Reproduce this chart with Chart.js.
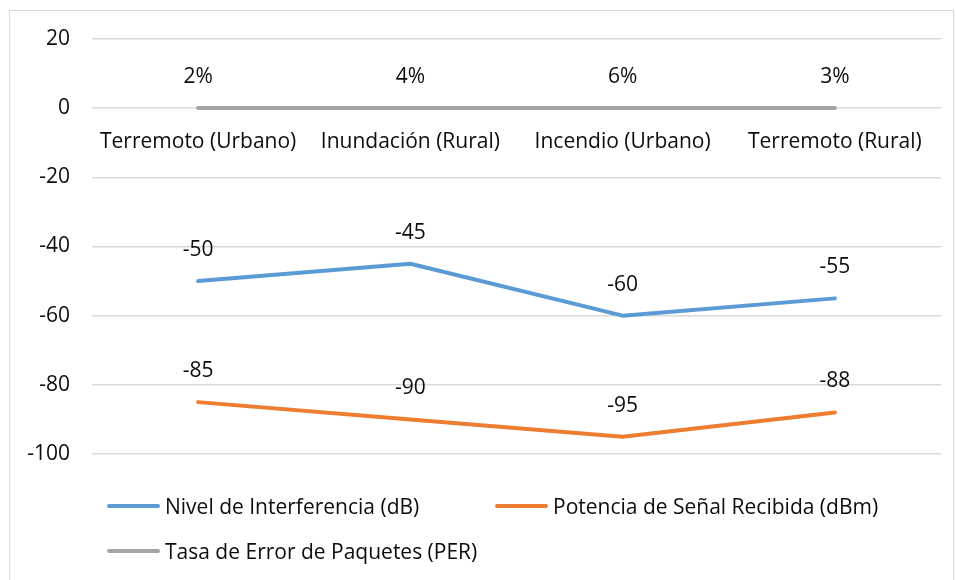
<!DOCTYPE html>
<html>
<head>
<meta charset="utf-8">
<script src="https://cdn.jsdelivr.net/npm/chart.js@4/dist/chart.umd.min.js"></script>
<style>
  html, body { margin: 0; padding: 0; background: #fff; }
  body { width: 956px; height: 580px; position: relative; overflow: hidden; font-family: "Open Sans", sans-serif; }
  #frame { position: absolute; left: 9px; top: 10px; width: 945px; height: 600px; border: 1px solid #d9d9d9; box-sizing: border-box; }
  #wrap { position: absolute; left: 0; top: 0; width: 956px; height: 580px; }
  #legend { position: absolute; left: 107px; top: 490px; display: grid; grid-template-columns: 388px 388px; row-gap: 13px; }
  .item { display: flex; align-items: center; height: 32px; font-size: 21px; color: #0d0d0d; }
  .swatch { width: 53px; height: 4px; border-radius: 2px; margin-right: 5px; }
</style>
</head>
<body>
<div id="frame"></div>
<div id="wrap"><canvas id="chart" width="956" height="580"></canvas></div>
<div id="legend"></div>
<script>
const categories = ["Terremoto (Urbano)", "Inundación (Rural)", "Incendio (Urbano)", "Terremoto (Rural)"];

const interferencia = [-50, -45, -60, -55];
const potencia = [-85, -90, -95, -88];
const per = [0.02, 0.04, 0.06, 0.03];

const seriesNames = [
  "Nivel de Interferencia (dB)",
  "Potencia de Señal Recibida (dBm)",
  "Tasa de Error de Paquetes (PER)"
];
const seriesColors = ["#5B9BD5", "#ED7D31", "#A5A5A5"];

const yTicks = [20, 0, -20, -40, -60, -80, -100];

const FONT = "Open Sans";
const FONT_SIZE = 21;
const TEXT_COLOR = "#0d0d0d";

function labelFor(datasetIndex, value) {
  if (datasetIndex === 2) return Math.round(value * 100) + "%";
  return String(value);
}

// data labels above each point, Excel style
const valueLabels = {
  id: "valueLabels",
  afterDatasetsDraw(chart) {
    const ctx = chart.ctx;
    ctx.save();
    ctx.font = FONT_SIZE + "px '" + FONT + "'";
    ctx.fillStyle = TEXT_COLOR;
    ctx.textAlign = "center";
    ctx.textBaseline = "middle";
    chart.data.datasets.forEach((ds, i) => {
      const meta = chart.getDatasetMeta(i);
      meta.data.forEach((pt, j) => {
        ctx.fillText(labelFor(i, ds.data[j]), pt.x, pt.y - 31);
      });
    });
    ctx.restore();
  }
};

function makeDataset(i, data) {
  return {
    label: seriesNames[i],
    data: data,
    borderColor: seriesColors[i],
    backgroundColor: seriesColors[i],
    borderWidth: 4,
    borderCapStyle: "round",
    borderJoinStyle: "round",
    pointRadius: 0,
    tension: 0
  };
}

new Chart(document.getElementById("chart"), {
  type: "line",
  data: {
    labels: categories,
    datasets: [
      makeDataset(0, interferencia),
      makeDataset(1, potencia),
      makeDataset(2, per)
    ]
  },
  options: {
    responsive: false,
    animation: false,
    layout: { padding: { left: 0, right: 15, top: 39, bottom: 126 } },
    plugins: {
      legend: { display: false },
      tooltip: { enabled: false }
    },
    scales: {
      x: {
        type: "category",
        offset: true,
        position: { y: 0 },
        grid: { display: false },
        border: { display: false },
        ticks: {
          font: { family: FONT, size: FONT_SIZE },
          color: TEXT_COLOR,
          padding: 13,
          maxRotation: 0,
          autoSkip: false
        }
      },
      y: {
        min: -100,
        max: 20,
        afterFit(scale) { scale.width = 92; },
        afterBuildTicks(scale) { scale.ticks = yTicks.map(v => ({ value: v })); },
        grid: { color: "#d9d9d9", lineWidth: 1.5, drawTicks: false },
        border: { display: false },
        ticks: {
          font: { family: FONT, size: FONT_SIZE },
          color: TEXT_COLOR,
          padding: 22
        }
      }
    }
  },
  plugins: [valueLabels]
});

const legend = document.getElementById("legend");
seriesNames.forEach((name, i) => {
  const item = document.createElement("div");
  item.className = "item";
  const sw = document.createElement("span");
  sw.className = "swatch";
  sw.style.background = seriesColors[i];
  const tx = document.createElement("span");
  tx.textContent = name;
  item.appendChild(sw);
  item.appendChild(tx);
  legend.appendChild(item);
});
</script>
</body>
</html>
